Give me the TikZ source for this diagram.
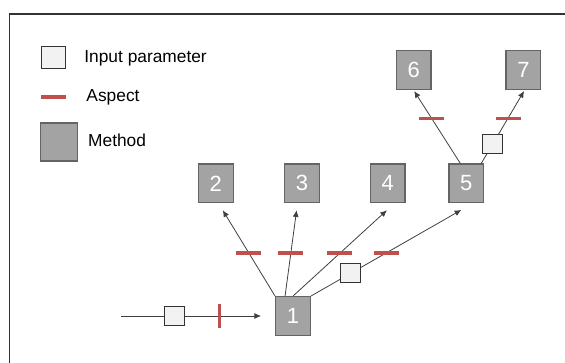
\documentclass[tikz,border=0pt]{standalone}
\usepackage{fontspec}
\setmainfont{Liberation Sans}
\usetikzlibrary{positioning,arrows.meta}
\definecolor{methodgray}{RGB}{163,163,163}
\definecolor{methodline}{RGB}{100,100,100}
\definecolor{paramfill}{RGB}{242,242,242}
\definecolor{aspectred}{RGB}{192,80,77}
\definecolor{linegray}{RGB}{64,64,64}
\tikzset{meth/.style={draw=methodline, line width=0.9pt, fill=methodgray, minimum width=26pt, minimum height=29pt, inner sep=0pt, text=white, font=\fontsize{16.5}{18}\selectfont}}
\tikzset{param/.style={draw=black!80, fill=paramfill, line width=0.7pt, minimum width=15pt, minimum height=14.25pt, inner sep=0pt}}
\tikzset{asp/.style={fill=aspectred, minimum width=18.75pt, minimum height=2.5pt, inner sep=0pt}}
\tikzset{vasp/.style={asp, minimum width=2.5pt, minimum height=18pt}}
\tikzset{leg/.style={inner sep=0pt, text height=0.72em, text depth=0pt, font=\fontsize{13}{15}\selectfont}}
\tikzset{arr/.style={draw=linegray, line width=0.6pt, -{Latex[length=5pt,width=4.5pt]}}}

\begin{document}
\begin{tikzpicture}
        \useasboundingbox (0,0) rectangle (423.75pt,-272.25pt);
        \draw[line width=1pt, draw=black!80] (7.1pt,-272.25pt) |- (423.75pt,-10.5pt);
        % legend
        \node[param, minimum width=18pt, minimum height=16.2pt] (legpar) at (39.75pt,-43.1pt) {};
        \node[leg, right=14pt of legpar] (legpartxt) {Input parameter};
        \node[asp] (legasp) at (40.1pt,-72.75pt) {};
        \node[leg, right=15pt of legasp] (legasptxt) {Aspect};
        \node[meth, minimum width=27.5pt, minimum height=28.5pt] (legmeth) at (44.25pt,-106.5pt) {};
        \node[leg, right=7.5pt of legmeth] (legmethtxt) {Method};
        % methods
        \node[meth] (n1) at (219.75pt,-237pt) {1};
        \node[meth, above left=69.6pt and 31pt of n1] (n2) {2};
        \node[meth, right=37.7pt of n2] (n3) {3};
        \node[meth, right=37.4pt of n3] (n4) {4};
        \node[meth, right=32.1pt of n4] (n5) {5};
        \node[meth, above left=55pt and 12.6pt of n5] (n6) {6};
        \node[meth, right=55.4pt of n6] (n7) {7};
        % input
        \coordinate[left=115.4pt of n1.west] (src);
        \draw[arr] (src) -- ([xshift=-10.5pt]n1.west) node[param, pos=0.383] (pin) {} node[vasp, pos=0.703] (ain) {};
        % edges out of 1
        \draw[arr] (n1.north west) -- ([shift={(5.25pt,-5.25pt)}]n2.south) node[asp, pos=0.5] (a12) {};
        \draw[arr] ([xshift=7.5pt]n1.north west) -- ([shift={(-4pt,-5.25pt)}]n3.south) node[asp, pos=0.5] (a13) {};
        \draw[arr] (n1.north) -- ([shift={(-0.6pt,-5.25pt)}]n4.south) node[asp, pos=0.5] (a14) {};
        \draw[arr] (n1.north east) -- ([shift={(-3.75pt,-5pt)}]n5.south) node[param, pos=0.265] (p15) {} node[asp, pos=0.5] (a15) {};
        % edges out of 5
        \draw[arr] ([xshift=-4.5pt]n5.north) -- ([shift={(0.4pt,-0.75pt)}]n6.south) node[asp, pos=0.625] (a56) {};
        \draw[arr] ([xshift=-2.25pt]n5.north east) -- ([shift={(0.5pt,-0.75pt)}]n7.south) node[param, pos=0.264] (p57) {} node[asp, pos=0.625] (a57) {};
\end{tikzpicture}
\end{document}
